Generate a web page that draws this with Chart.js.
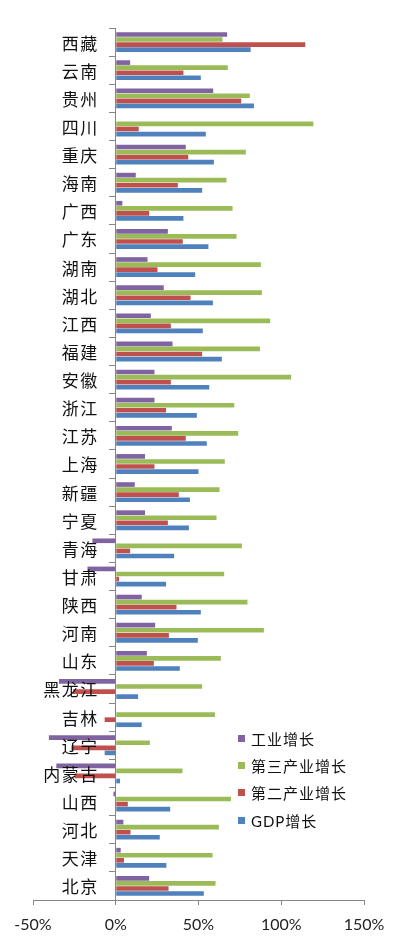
<!DOCTYPE html>
<html>
<head>
<meta charset="utf-8">
<script src="https://cdn.jsdelivr.net/npm/chart.js@4"></script>
<style>
  body { margin: 0; background: #fff; }
  #wrap { position: relative; width: 400px; height: 939px; }
  #legend { position: absolute; left: 238px; top: 725px; font: 15px Lato, "Noto Sans CJK SC", sans-serif; color: #111; letter-spacing: 1px; }
  #legend .item { height: 27.2px; display: flex; align-items: center; }
  #legend .box { width: 7px; height: 7px; margin-right: 6px; }
</style>
</head>
<body>
<div id="wrap">
  <canvas id="chart"></canvas>
  <div id="legend"></div>
</div>
<script>
  const provinces = ['西藏', '云南', '贵州', '四川', '重庆', '海南', '广西', '广东', '湖南', '湖北', '江西', '福建', '安徽', '浙江', '江苏', '上海', '新疆', '宁夏', '青海', '甘肃', '陕西', '河南', '山东', '黑龙江', '吉林', '辽宁', '内蒙古', '山西', '河北', '天津', '北京'];

  // growth in %
  const industry = [67.3, 8.7, 58.9, 0, 42.3, 12.1, 4.0, 31.5, 19.2, 29.0, 21.2, 34.3, 23.4, 23.4, 33.9, 17.7, 11.5, 17.7, -14.1, -17.1, 15.7, 23.8, 18.8, -34.3, -0.5, -40.4, -35.9, -1.4, 4.6, 3.0, 20.2];
  const tertiary = [64.5, 67.7, 81.0, 119.4, 78.6, 66.9, 70.6, 73.0, 87.7, 88.3, 93.3, 87.1, 106.0, 71.6, 74.0, 65.9, 62.7, 60.9, 76.2, 65.5, 79.6, 89.5, 63.5, 52.2, 59.9, 20.6, 40.3, 69.6, 62.3, 58.5, 60.3];
  const secondary = [114.5, 40.9, 75.8, 13.9, 43.8, 37.5, 20.2, 40.5, 25.2, 45.2, 33.3, 52.2, 33.3, 30.4, 42.3, 23.4, 38.1, 31.5, 8.7, 2.0, 36.7, 32.1, 23.0, -25.8, -6.7, -26.8, -24.8, 7.3, 8.9, 5.0, 31.9];
  const gdp = [81.5, 51.4, 83.5, 54.4, 59.3, 52.2, 40.9, 56.0, 48.0, 58.7, 52.6, 64.1, 56.5, 49.0, 55.0, 50.0, 44.8, 44.2, 35.3, 30.4, 51.4, 49.6, 38.7, 13.5, 15.7, -6.7, 2.6, 32.9, 26.6, 30.6, 53.2];

  const seriesNames = ['工业增长', '第三产业增长', '第二产业增长', 'GDP增长'];
  const xTicks = [-50, 0, 50, 100, 150];

  const axisColor = '#868686';

  // province names sit left of the zero line, on top of the bars
  const categoryLabels = {
    id: 'categoryLabels',
    afterDatasetsDraw(chart) {
      const { ctx, scales: { x, y } } = chart;
      const x0 = x.getPixelForValue(0);
      ctx.save();
      ctx.font = '17px "Noto Sans CJK SC"';
      ctx.letterSpacing = '1.5px';
      ctx.fillStyle = '#111';
      ctx.textAlign = 'right';
      ctx.textBaseline = 'middle';
      chart.data.labels.forEach((label, i) => {
        ctx.fillText(label, x0 - 17, y.getPixelForValue(i) + 1);
      });
      ctx.restore();
    }
  };

  const chart = new Chart(document.getElementById('chart'), {
    type: 'bar',
    data: {
      labels: provinces,
      datasets: [
        { label: seriesNames[0], data: industry, backgroundColor: '#8064A2' },
        { label: seriesNames[1], data: tertiary, backgroundColor: '#9BBB59' },
        { label: seriesNames[2], data: secondary, backgroundColor: '#C0504D' },
        { label: seriesNames[3], data: gdp, backgroundColor: '#4F81BD' }
      ]
    },
    options: {
      indexAxis: 'y',
      responsive: true,
      maintainAspectRatio: false,
      animation: false,
      layout: { padding: { left: 33, right: 36, top: 28, bottom: 0 } },
      datasets: { bar: { categoryPercentage: 0.72, barPercentage: 0.92 } },
      plugins: { legend: { display: false }, tooltip: { enabled: false } },
      scales: {
        x: {
          min: -50,
          max: 150,
          afterBuildTicks: scale => { scale.ticks = xTicks.map(v => ({ value: v })); },
          afterFit: scale => { scale.height = 39; },
          grid: { drawOnChartArea: false, tickLength: 5, color: axisColor },
          border: { color: axisColor },
          ticks: {
            padding: 10,
            color: '#222',
            font: { family: 'Lato', size: 16 },
            callback: v => v + '%'
          }
        },
        y: {
          position: { x: 0 },
          grid: { drawOnChartArea: false, tickLength: 6, color: axisColor, offset: true },
          border: { color: axisColor },
          ticks: { display: false, autoSkip: false }
        }
      }
    },
    plugins: [categoryLabels]
  });

  const legend = document.getElementById('legend');
  legend.innerHTML = chart.data.datasets.map(ds => `
    <div class="item"><span class="box" style="background:${ds.backgroundColor}"></span>${ds.label}</div>
  `).join('');
</script>
</body>
</html>
